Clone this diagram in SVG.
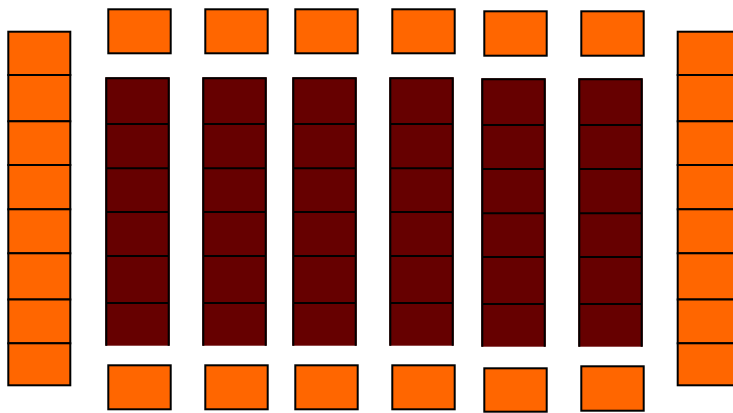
<svg xmlns="http://www.w3.org/2000/svg" width="733" height="413" viewBox="0 0 733 413">
<style>
.o{fill:#ff6600;stroke:#000;stroke-width:2}
.d{fill:#660000;stroke:none}
.dl{fill:none;stroke:#000;stroke-width:2}
</style>
<rect width="733" height="413" fill="#fff"/>
<g id="left-stack">
<rect class="o" x="8.3" y="31.7" width="62" height="43.3"/>
<rect class="o" x="8.3" y="75" width="62" height="46.3"/>
<rect class="o" x="8.3" y="121.3" width="62" height="43.7"/>
<rect class="o" x="8.3" y="165" width="62" height="44.3"/>
<rect class="o" x="8.3" y="209.3" width="62" height="44"/>
<rect class="o" x="8.3" y="253.3" width="62" height="46.2"/>
<rect class="o" x="8.3" y="299.5" width="62" height="43.8"/>
<rect class="o" x="8.3" y="343.3" width="62" height="42"/>
</g>
<g id="right-stack">
<rect class="o" x="677.7" y="31.7" width="62" height="43.3"/>
<rect class="o" x="677.7" y="75" width="62" height="46.3"/>
<rect class="o" x="677.7" y="121.3" width="62" height="43.7"/>
<rect class="o" x="677.7" y="165" width="62" height="44.3"/>
<rect class="o" x="677.7" y="209.3" width="62" height="44"/>
<rect class="o" x="677.7" y="253.3" width="62" height="46.2"/>
<rect class="o" x="677.7" y="299.5" width="62" height="43.8"/>
<rect class="o" x="677.7" y="343.3" width="62" height="42"/>
</g>
<g id="top-boxes">
<rect id="top1" class="o" x="108.3" y="9.3" width="62.4" height="44"/>
<rect id="top2" class="o" x="205.3" y="9.3" width="62.4" height="44"/>
<rect id="top3" class="o" x="295.3" y="9.3" width="62.4" height="44"/>
<rect id="top4" class="o" x="392.3" y="9.3" width="62.4" height="44"/>
<rect id="top5" class="o" x="484.3" y="11.3" width="62.4" height="44.4"/>
<rect id="top6" class="o" x="581.3" y="11.3" width="62.4" height="44.4"/>
</g>
<g id="bottom-boxes">
<rect id="bot1" class="o" x="108.3" y="365.3" width="62.4" height="44"/>
<rect id="bot2" class="o" x="205.3" y="365.3" width="62.4" height="44"/>
<rect id="bot3" class="o" x="295.3" y="365.3" width="62.4" height="44"/>
<rect id="bot4" class="o" x="392.3" y="365.3" width="62.4" height="44"/>
<rect id="bot5" class="o" x="484.3" y="368.3" width="62.4" height="43.4"/>
<rect id="bot6" class="o" x="581.3" y="366.3" width="62.4" height="44.4"/>
</g>
<g id="dark1">
<rect class="d" x="105.3" y="77.3" width="64.4" height="268.4"/>
<path class="dl" d="M106.3 345.7V78.3H168.7V345.7M106.3 124H168.7M106.3 168.3H168.7M106.3 212H168.7M106.3 256H168.7M106.3 303H168.7"/>
</g>
<g id="dark2">
<rect class="d" x="202.3" y="77.3" width="64.4" height="268.4"/>
<path class="dl" d="M203.3 345.7V78.3H265.7V345.7M203.3 124H265.7M203.3 168.3H265.7M203.3 212H265.7M203.3 256H265.7M203.3 303H265.7"/>
</g>
<g id="dark3">
<rect class="d" x="292.3" y="77.3" width="64.4" height="268.4"/>
<path class="dl" d="M293.3 345.7V78.3H355.7V345.7M293.3 124H355.7M293.3 168.3H355.7M293.3 212H355.7M293.3 256H355.7M293.3 303H355.7"/>
</g>
<g id="dark4">
<rect class="d" x="389.3" y="77.3" width="64.4" height="268.4"/>
<path class="dl" d="M390.3 345.7V78.3H452.7V345.7M390.3 124H452.7M390.3 168.3H452.7M390.3 212H452.7M390.3 256H452.7M390.3 303H452.7"/>
</g>
<g id="dark5">
<rect class="d" x="481.3" y="78.3" width="64.4" height="268.4"/>
<path class="dl" d="M482.3 346.7V79.3H544.7V346.7M482.3 125H544.7M482.3 169H544.7M482.3 213.3H544.7M482.3 257H544.7M482.3 304H544.7"/>
</g>
<g id="dark6">
<rect class="d" x="578.3" y="78.3" width="64.4" height="268.4"/>
<path class="dl" d="M579.3 346.7V79.3H641.7V346.7M579.3 125H641.7M579.3 169H641.7M579.3 213.3H641.7M579.3 257H641.7M579.3 304H641.7"/>
</g>
<g id="connectors"/>
</svg>
